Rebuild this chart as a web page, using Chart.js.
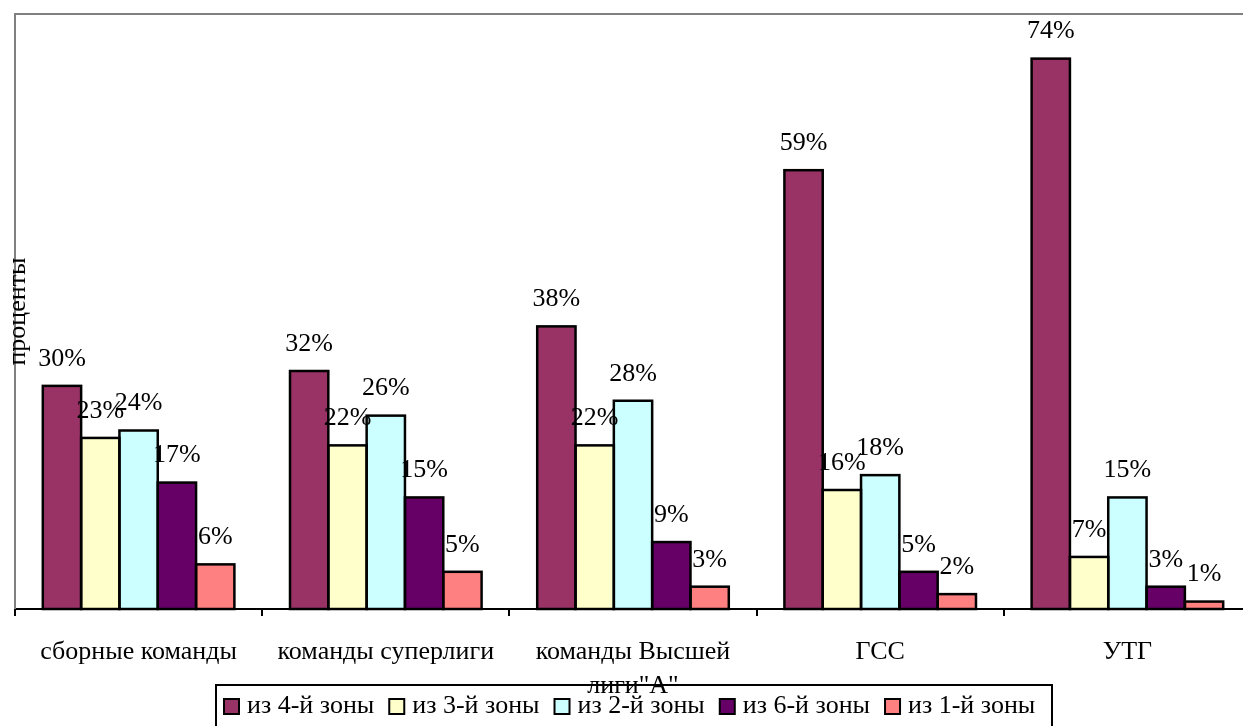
<!DOCTYPE html>
<html>
<head>
<meta charset="utf-8">
<script src="https://cdn.jsdelivr.net/npm/chart.js@4"></script>
<style>
  html, body { margin: 0; padding: 0; background: #fff; overflow: hidden; }
  canvas { display: block; }
</style>
</head>
<body>
<canvas id="zoneChart" width="1256" height="726"></canvas>
<script>
const categories = ['сборные команды', 'команды суперлиги', ['команды Высшей', 'лиги"А"'], 'ГСС', 'УТГ'];
const seriesNames = ['из 4-й зоны', 'из 3-й зоны', 'из 2-й зоны', 'из 6-й зоны', 'из 1-й зоны'];
const zone4 = [30, 32, 38, 59, 74];
const zone3 = [23, 22, 22, 16, 7];
const zone2 = [24, 26, 28, 18, 15];
const zone6 = [17, 15, 9, 5, 3];
const zone1 = [6, 5, 3, 2, 1];
const colors = ['#993366', '#FFFFCC', '#CCFFFF', '#660066', '#FF8080'];
const axisTitle = 'проценты';

const serif = '"Liberation Serif", "Times New Roman", serif';

// gray frame on plot area
const frame = {
  id: 'frame',
  beforeDatasetsDraw(chart) {
    const a = chart.chartArea, c = chart.ctx;
    c.save();
    c.strokeStyle = '#808080';
    c.lineWidth = 2;
    c.beginPath();
    c.moveTo(a.left, a.bottom);
    c.lineTo(a.left, a.top);
    c.lineTo(a.right, a.top);
    c.stroke();
    c.restore();
  }
};

// bar outlines centred on the bar edges (shared between neighbours)
const outlines = {
  id: 'outlines',
  afterDatasetsDraw(chart) {
    const c = chart.ctx;
    c.save();
    c.strokeStyle = '#000';
    c.lineWidth = 2.5;
    chart.data.datasets.forEach((ds, i) => {
      chart.getDatasetMeta(i).data.forEach((bar) => {
        const p = bar.getProps(['x', 'y', 'base', 'width'], true);
        c.strokeRect(p.x - p.width / 2, p.y, p.width, p.base - p.y);
      });
    });
    c.restore();
  }
};

// value labels above bars + axis title + legend box
const extras = {
  id: 'extras',
  afterDraw(chart) {
    const c = chart.ctx, a = chart.chartArea;
    c.save();
    c.fillStyle = '#000';
    c.font = '26px ' + serif;
    c.textAlign = 'center';
    c.textBaseline = 'middle';
    chart.data.datasets.forEach((ds, i) => {
      chart.getDatasetMeta(i).data.forEach((bar, j) => {
        c.fillText(ds.data[j] + '%', bar.x, bar.y - 27);
      });
    });

    // y axis title
    c.save();
    c.translate(a.left + 3, (a.top + a.bottom) / 2);
    c.rotate(-Math.PI / 2);
    c.fillText(axisTitle, 0, 0);
    c.restore();

    // legend
    const boxL = 216, boxT = 685, boxR = 1052, boxB = 728;
    c.lineWidth = 2;
    c.strokeStyle = '#000';
    c.strokeRect(boxL, boxT, boxR - boxL, boxB - boxT);
    c.font = '26px ' + serif;
    c.textAlign = 'left';
    let x = 224;
    const my = 706;
    chart.data.datasets.forEach((ds) => {
      c.fillStyle = ds.backgroundColor;
      c.fillRect(x, my - 7, 15, 15);
      c.strokeRect(x, my - 7, 15, 15);
      c.fillStyle = '#000';
      c.fillText(ds.label, x + 23, my);
      x += 23 + c.measureText(ds.label).width + 15;
    });
    c.restore();
  }
};

const seriesData = [zone4, zone3, zone2, zone6, zone1];

new Chart(document.getElementById('zoneChart'), {
  type: 'bar',
  data: {
    labels: categories,
    datasets: seriesNames.map((name, i) => ({
      label: name,
      data: seriesData[i],
      backgroundColor: colors[i],
      borderWidth: 0,
      categoryPercentage: 0.775,
      barPercentage: 1
    }))
  },
  options: {
    responsive: false,
    animation: false,
    layout: { padding: { left: 15, top: 14, right: 5, bottom: 0 } },
    scales: {
      x: {
        afterFit(scale) { scale.height = 117; },
        border: { color: '#000', width: 2 },
        grid: { display: true, drawOnChartArea: false, drawTicks: true, tickLength: 7, color: '#000', lineWidth: 2 },
        ticks: {
          color: '#000',
          padding: 19,
          maxRotation: 0,
          autoSkip: false,
          font: { family: serif, size: 26, lineHeight: 1.3 }
        }
      },
      y: {
        display: false,
        min: 0,
        max: 80
      }
    },
    plugins: {
      legend: { display: false },
      tooltip: { enabled: false }
    }
  },
  plugins: [frame, outlines, extras]
});
</script>
</body>
</html>
